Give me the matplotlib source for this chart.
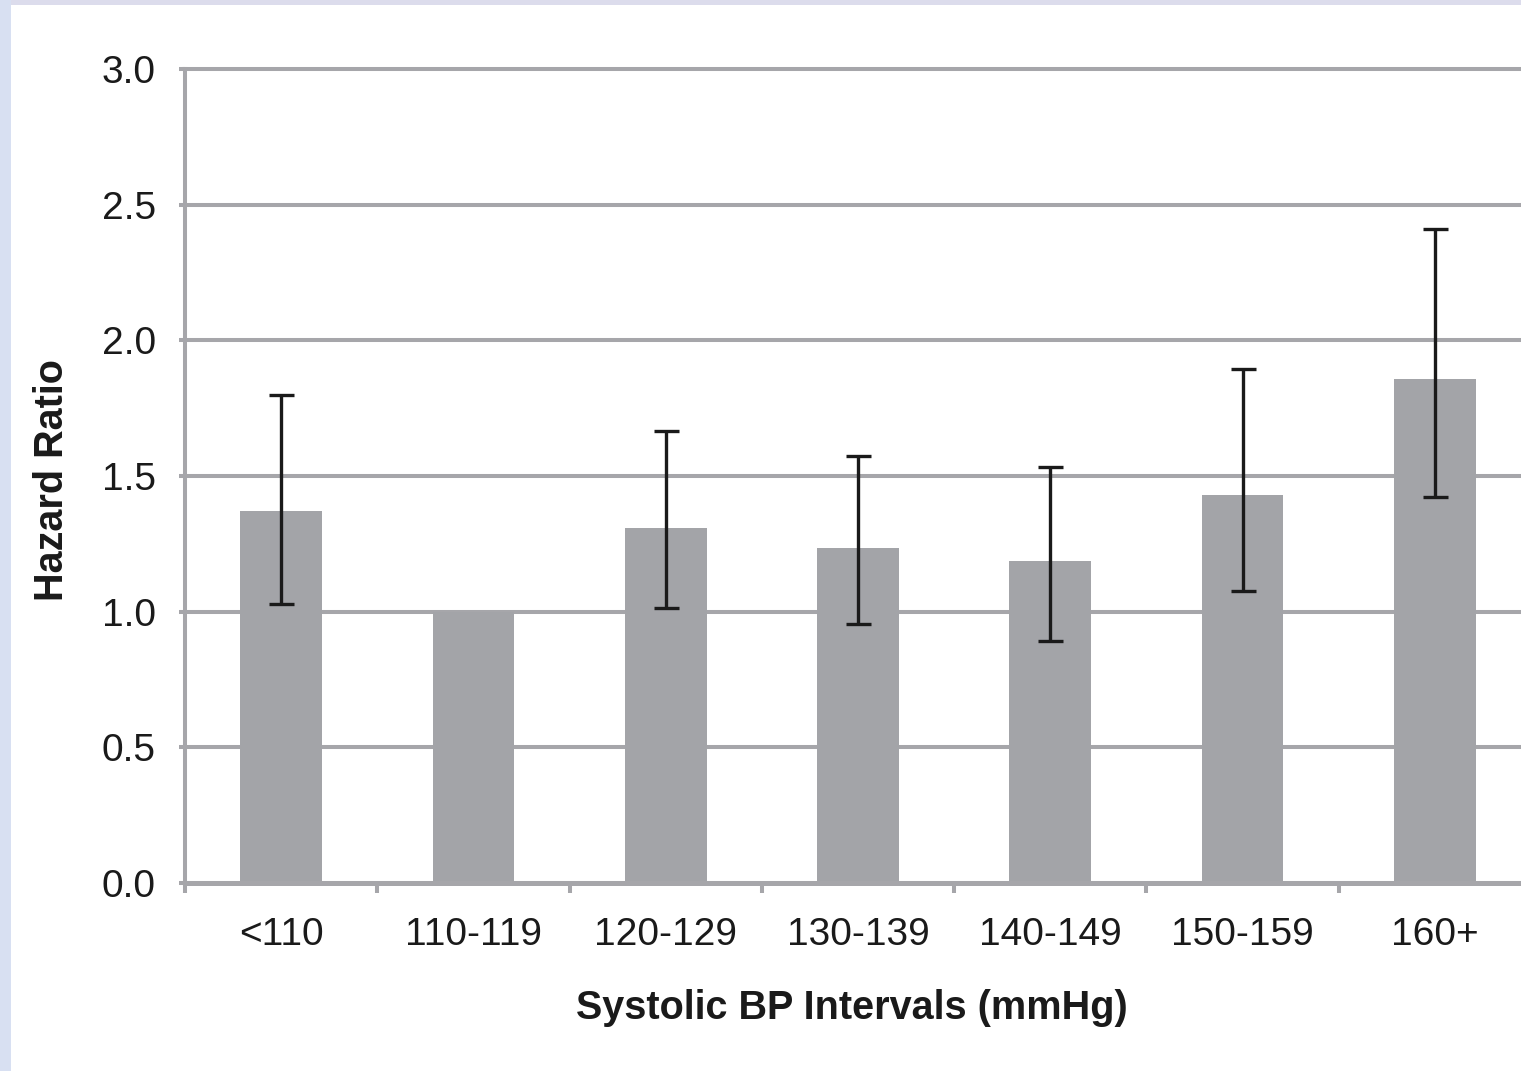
import matplotlib
matplotlib.use("Agg")
import matplotlib.pyplot as plt
from matplotlib.patches import Rectangle
from matplotlib.ticker import FixedLocator, NullFormatter, FormatStrFormatter

categories = ["<110", "110-119", "120-129", "130-139", "140-149", "150-159", "160+"]
hazard_ratio = [1.37, 1.00, 1.31, 1.235, 1.187, 1.43, 1.858]
ci_upper = [1.80, 1.00, 1.666, 1.574, 1.533, 1.895, 2.411]
ci_lower = [1.028, 1.00, 1.014, 0.955, 0.892, 1.076, 1.423]
has_ci = [True, False, True, True, True, True, True]
y_ticks = [0.0, 0.5, 1.0, 1.5, 2.0, 2.5, 3.0]

plt.rcParams['font.family'] = ['Liberation Sans', 'DejaVu Sans']

W, H = 1521, 1071
fig = plt.figure(figsize=(W / 100, H / 100), dpi=100)
fig.patch.set_facecolor('white')

# lavender frame (top and left)
fig.patches.append(Rectangle((0, 1 - 5 / H), 1, 5 / H, transform=fig.transFigure,
                             facecolor='#dcdcec', edgecolor='none', zorder=0))
fig.patches.append(Rectangle((0, 0), 11 / W, 1, transform=fig.transFigure,
                             facecolor='#d8e0f2', edgecolor='none', zorder=0))

left_px, right_px, top_px, bottom_px = 185, 1531, 69, 883
ax = fig.add_axes([left_px / W, 1 - bottom_px / H, (right_px - left_px) / W,
                   (bottom_px - top_px) / H])
ax.set_facecolor('none')

x = list(range(len(categories)))
grey = '#a3a4a8'
line_grey = '#a6a6aa'
text_col = '#1a1a1a'

ax.bar(x, hazard_ratio, width=0.425, color=grey, zorder=2)

ex = [xi for xi, h in zip(x, has_ci) if h]
ey = [v for v, h in zip(hazard_ratio, has_ci) if h]
elo = [v - l for v, l, h in zip(hazard_ratio, ci_lower, has_ci) if h]
ehi = [u - v for v, u, h in zip(hazard_ratio, ci_upper, has_ci) if h]
ax.errorbar(ex, ey, yerr=[elo, ehi], fmt='none', ecolor='#1a1a1a',
            elinewidth=2.4, capsize=9, capthick=2.4, zorder=3)

ax.set_xlim(-0.5, len(categories) - 0.5)
ax.set_ylim(0, 3.0)

# y axis
ax.set_yticks(y_ticks)
ax.yaxis.set_major_formatter(FormatStrFormatter('%.1f'))
ax.yaxis.grid(True, color=line_grey, linewidth=2.9, zorder=1)
for gl in ax.yaxis.get_gridlines():
    gl.set_clip_on(False)
ax.set_axisbelow(True)
ax.tick_params(axis='y', which='major', length=4, width=2.9, color=line_grey,
               labelsize=28, labelcolor=text_col, pad=17)

# x axis: ticks at boundaries, labels at centers
ax.xaxis.set_major_locator(FixedLocator([i - 0.5 for i in range(len(categories) + 1)]))
ax.xaxis.set_major_formatter(NullFormatter())
ax.xaxis.set_minor_locator(FixedLocator(x))
ax.set_xticklabels(categories, minor=True)
ax.tick_params(axis='x', which='major', length=7, width=2.9, color=line_grey)
ax.tick_params(axis='x', which='minor', length=0, labelsize=28,
               labelcolor=text_col, pad=24.5)

for s in ['top', 'right']:
    ax.spines[s].set_visible(False)
ax.spines['left'].set_color(line_grey)
ax.spines['left'].set_linewidth(2.9)
ax.spines['bottom'].set_color(line_grey)
ax.spines['bottom'].set_linewidth(3.6)
ax.spines['bottom'].set_zorder(4)

ax.set_xlabel('Systolic BP Intervals (mmHg)', fontsize=28.5, fontweight='bold',
              color=text_col)
ax.xaxis.set_label_coords((852 - left_px) / (right_px - left_px),
                          (bottom_px - 1008) / (bottom_px - top_px))
ax.xaxis.label.set_va('center')
ax.set_ylabel('Hazard Ratio', fontsize=28.5, fontweight='bold', color=text_col)
ax.yaxis.set_label_coords((52 - left_px) / (right_px - left_px),
                          (bottom_px - 480) / (bottom_px - top_px))
ax.yaxis.label.set_va('center')
ax.yaxis.label.set_ha('center')

fig.savefig('out.png', dpi=100)
